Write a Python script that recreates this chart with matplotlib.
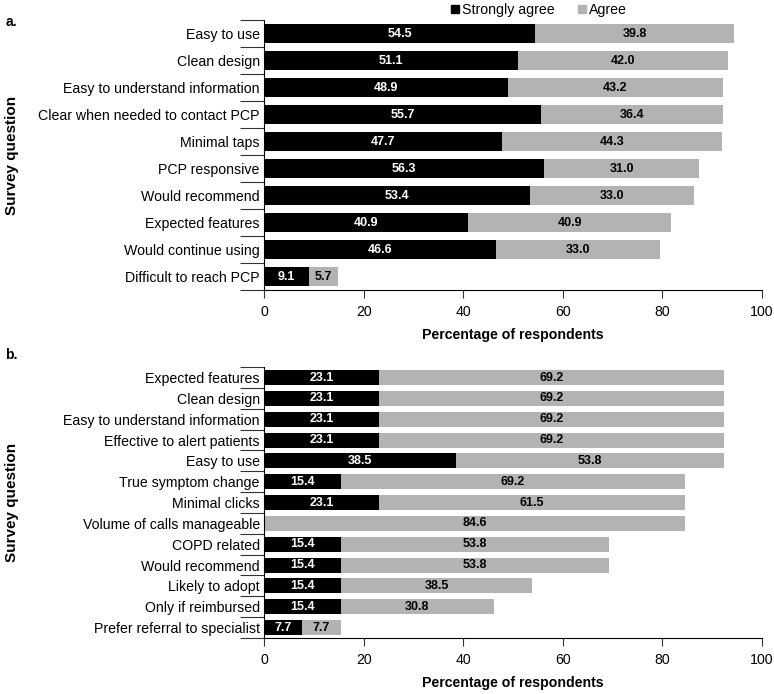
import numpy as np
import matplotlib
matplotlib.use("Agg")
import matplotlib.pyplot as plt
from matplotlib.lines import Line2D

plt.rcParams['font.family'] = ['Liberation Sans', 'DejaVu Sans']

# Panel a data
questions_a = ["Easy to use", "Clean design", "Easy to understand information",
               "Clear when needed to contact PCP", "Minimal taps", "PCP responsive",
               "Would recommend", "Expected features", "Would continue using",
               "Difficult to reach PCP"]
strong_a = [54.5, 51.1, 48.9, 55.7, 47.7, 56.3, 53.4, 40.9, 46.6, 9.1]
agree_a = [39.8, 42.0, 43.2, 36.4, 44.3, 31.0, 33.0, 40.9, 33.0, 5.7]

# Panel b data
questions_b = ["Expected features", "Clean design", "Easy to understand information",
               "Effective to alert patients", "Easy to use", "True symptom change",
               "Minimal clicks", "Volume of calls manageable", "COPD related",
               "Would recommend", "Likely to adopt", "Only if reimbursed",
               "Prefer referral to specialist"]
strong_b = [23.1, 23.1, 23.1, 23.1, 38.5, 15.4, 23.1, 0.0, 15.4, 15.4, 15.4, 15.4, 7.7]
agree_b = [69.2, 69.2, 69.2, 69.2, 53.8, 69.2, 61.5, 84.6, 53.8, 53.8, 38.5, 30.8, 7.7]

xticks = [0, 20, 40, 60, 80, 100]

BLACK = "#000000"
GRAY = "#b3b3b3"

fig = plt.figure(figsize=(7.74, 6.94), dpi=100)
ax_a = fig.add_axes([0.3411, 0.582, 0.6434, 0.389])
ax_b = fig.add_axes([0.3411, 0.0807, 0.6434, 0.3903])


def draw_panel(ax, questions, strong, agree, height):
    n = len(questions)
    y = np.arange(n)
    ax.barh(y, strong, height=height, color=BLACK)
    ax.barh(y, agree, left=strong, height=height, color=GRAY)
    for i in range(n):
        if strong[i] > 0:
            ax.text(strong[i] / 2, y[i], f"{strong[i]:.1f}", ha="center", va="center",
                    color="white", fontsize=9, fontweight="bold")
        if agree[i] > 0:
            ax.text(strong[i] + agree[i] / 2, y[i], f"{agree[i]:.1f}", ha="center",
                    va="center", color="black", fontsize=9, fontweight="bold")
    ax.set_ylim(n - 0.5, -0.5)
    ax.set_xlim(0, 100)
    ax.set_yticks(y)
    ax.set_yticklabels(questions, fontsize=10.2)
    ax.set_yticks(np.arange(n + 1) - 0.5, minor=True)
    ax.tick_params(axis="y", which="major", length=0, pad=3)
    ax.tick_params(axis="y", which="minor", length=17, width=0.8, color="#333333")
    ax.set_xticks(xticks)
    ax.tick_params(axis="x", labelsize=10.2, length=6, width=0.8, color="#333333", pad=5)
    ax.spines["top"].set_visible(False)
    ax.spines["right"].set_visible(False)
    ax.spines["left"].set_linewidth(0.8)
    ax.spines["bottom"].set_linewidth(0.8)
    ax.set_xlabel("Percentage of respondents", fontsize=10.2, fontweight="bold", labelpad=6)


draw_panel(ax_a, questions_a, strong_a, agree_a, 0.7)
draw_panel(ax_b, questions_b, strong_b, agree_b, 0.72)

fig.text(0.007, 0.968, "a.", fontsize=10, fontweight="bold", va="center")
fig.text(0.007, 0.489, "b.", fontsize=10, fontweight="bold", va="center")
fig.text(0.016, 0.582 + 0.389 / 2, "Survey question", rotation=90, fontsize=11,
         fontweight="bold", ha="center", va="center")
fig.text(0.016, 0.0807 + 0.3903 / 2, "Survey question", rotation=90, fontsize=11,
         fontweight="bold", ha="center", va="center")

handles = [Line2D([], [], marker="s", linestyle="none", color=BLACK, markersize=6),
           Line2D([], [], marker="s", linestyle="none", color=GRAY, markersize=6)]
fig.legend(handles, ["Strongly agree", "Agree"], loc="center", bbox_to_anchor=(0.695, 0.985),
           ncol=2, frameon=False, fontsize=10.2, handletextpad=0.1, columnspacing=1.5,
           handlelength=0.8)

fig.savefig("out.png", dpi=100)
